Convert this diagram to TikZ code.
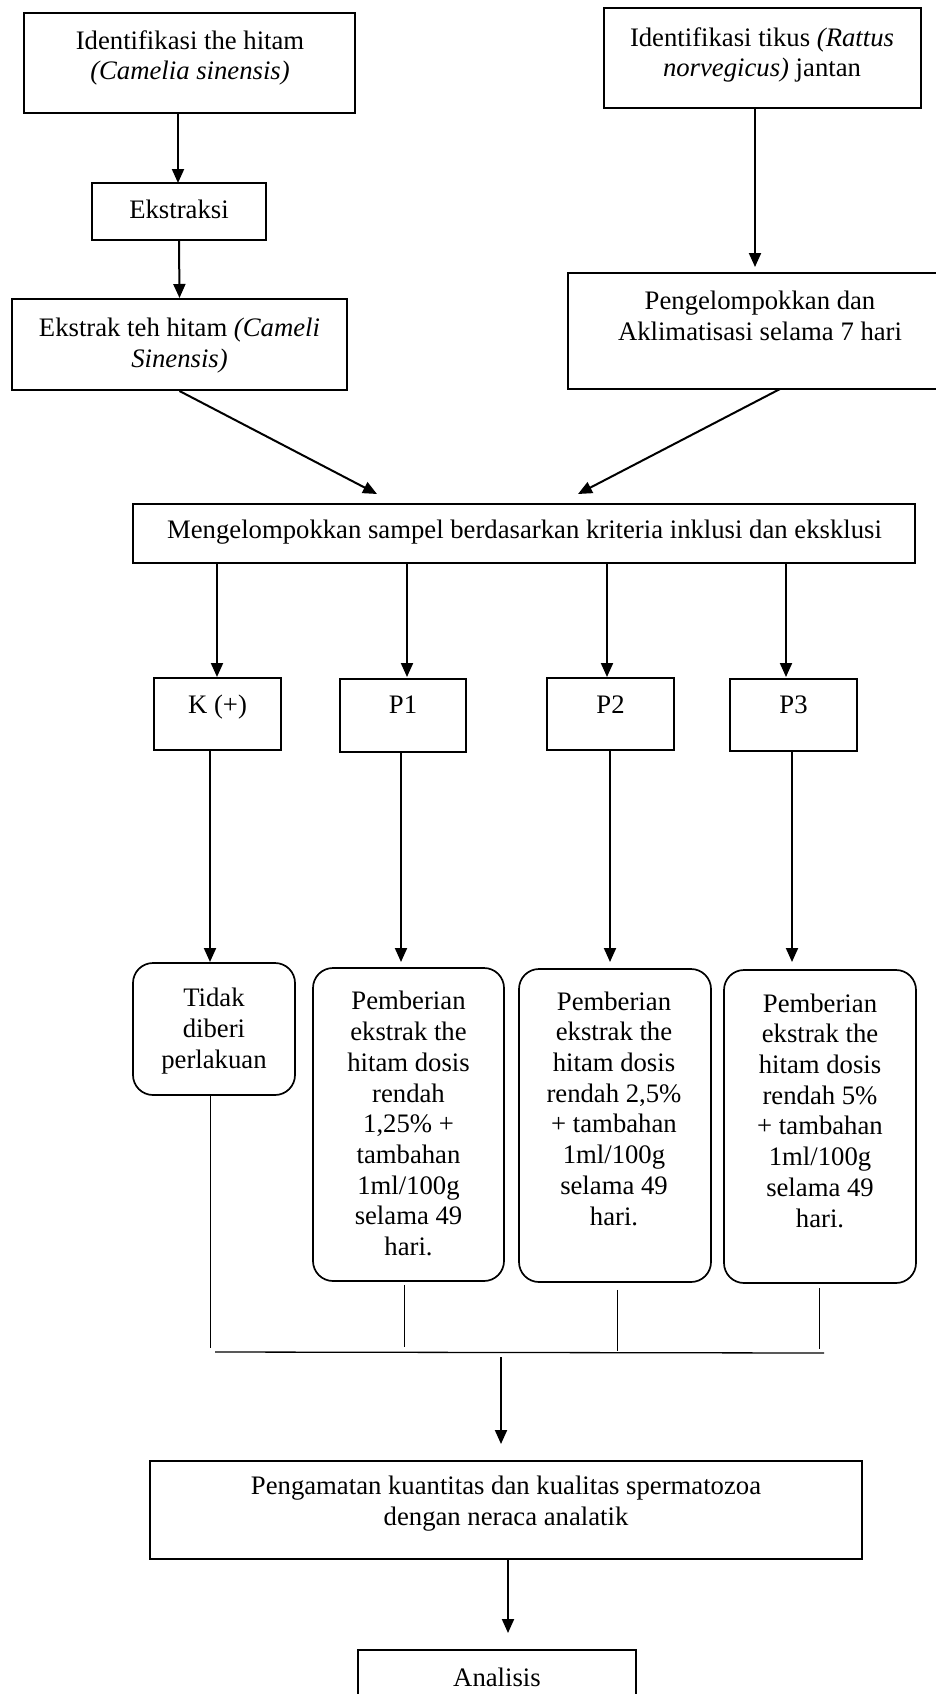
\documentclass[tikz,border=0pt]{standalone}
\usepackage{fontspec}
\setmainfont{Liberation Serif}
\usetikzlibrary{arrows.meta}
\newcommand\tf{\fontsize{26.7}{30.7}\selectfont}
\tikzset{
  box/.style={draw, line width=2pt, inner sep=0pt},
  rbox/.style={draw, line width=1.7pt, rounded corners=20pt, inner sep=0pt},
  txt/.style={align=center, inner sep=0pt, font=\tf, anchor=base},
  arr/.style={line width=2pt, -{Triangle[length=14pt,width=12pt]}},
  thinline/.style={line width=1pt},
}
\begin{document}
\begin{tikzpicture}[x=1pt, y=-1pt]
\useasboundingbox (0,0) rectangle (936,1694);
% top boxes (text nodes are placed at the baseline of their last line)
\node[box, minimum width=331pt, minimum height=100pt] (A) at (189.5,63) {};
\node[txt] (At) at (190,80) {Identifikasi the hitam\\\textit{(Camelia sinensis)}};
\node[box, minimum width=317pt, minimum height=100pt] (B) at (762.5,58) {};
\node[txt] (Bt) at (762,77) {Identifikasi tikus \textit{(Rattus}\\\textit{norvegicus)} jantan};
\node[box, minimum width=174pt, minimum height=57pt] (Ek) at (179,211.5) {};
\node[txt] (Ekt) at (179,218) {Ekstraksi};
\node[box, minimum width=335pt, minimum height=91pt] (ET) at (179.5,344.5) {};
\node[txt] (ETt) at (179.5,367) {Ekstrak teh hitam \textit{(Cameli}\\\textit{Sinensis)}};
\node[box, minimum width=373pt, minimum height=116pt] (PA) at (754.5,331) {};
\node[txt] (PAt) at (760,340) {Pengelompokkan dan\\Aklimatisasi selama 7 hari};
% grouping box
\node[box, minimum width=782pt, minimum height=59pt] (M) at (524,533.5) {};
\node[txt] (Mt) at (524.5,538) {Mengelompokkan sampel berdasarkan kriteria inklusi dan eksklusi};
% small boxes
\node[box, minimum width=127pt, minimum height=72pt] (K) at (217.5,714) {};
\node[txt] (Kt) at (217.5,713) {K (+)};
\node[box, minimum width=126pt, minimum height=73pt] (P1) at (403,715.5) {};
\node[txt] (P1t) at (403,713) {P1};
\node[box, minimum width=127pt, minimum height=72pt] (P2) at (610.5,714) {};
\node[txt] (P2t) at (610.5,713) {P2};
\node[box, minimum width=127pt, minimum height=72pt] (P3) at (793.5,715) {};
\node[txt] (P3t) at (793.5,713) {P3};
% rounded boxes
\node[rbox, minimum width=162pt, minimum height=132pt] (RK) at (214,1029) {};
\node[txt] (RKt) at (214,1068) {Tidak\\diberi\\perlakuan};
\node[rbox, minimum width=191pt, minimum height=313pt] (R1) at (408.5,1124.5) {};
\node[txt] (R1t) at (408.5,1255.5) {Pemberian\\ekstrak the\\hitam dosis\\rendah\\1,25\% +\\tambahan\\1ml/100g\\selama 49\\hari.};
\node[rbox, minimum width=192pt, minimum height=313pt] (R2) at (615,1125.5) {};
\node[txt] (R2t) at (614,1225) {Pemberian\\ekstrak the\\hitam dosis\\rendah 2,5\%\\+ tambahan\\1ml/100g\\selama 49\\hari.};
\node[rbox, minimum width=192pt, minimum height=313pt] (R3) at (820,1126.5) {};
\node[txt] (R3t) at (820,1227) {Pemberian\\ekstrak the\\hitam dosis\\rendah 5\%\\+ tambahan\\1ml/100g\\selama 49\\hari.};
% bottom boxes
\node[box, minimum width=712pt, minimum height=98pt] (PG) at (506,1510) {};
\node[txt] (PGt) at (506,1525) {Pengamatan kuantitas dan kualitas spermatozoa\\dengan neraca analatik};
\node[box, minimum width=278pt, minimum height=100pt] (AN) at (497,1700) {};
\node[txt] (ANt) at (497,1686) {Analisis};
% coordinates
\coordinate (tA) at (178,183);
\coordinate (tB) at (755,267);
\coordinate (dL) at (377,494);
\coordinate (dR) at (578,494);
\coordinate (sR) at (780,389);
\coordinate (m0) at (217,677);
\coordinate (m1) at (407,677);
\coordinate (m2) at (607,677);
\coordinate (m3) at (786,677);
\coordinate (t0) at (210,962);
\coordinate (t1) at (401,962);
\coordinate (t2) at (610,962);
\coordinate (t3) at (792,962);
\coordinate (j0) at (210,1348);
\coordinate (j1) at (404,1347);
\coordinate (j2) at (617,1351);
\coordinate (j3) at (819,1349);
\coordinate (h0) at (215,1352);
\coordinate (h1) at (824,1353);
\coordinate (s5) at (501,1357);
\coordinate (t5) at (501,1444);
\coordinate (t6) at (508,1633);
% arrows
\draw[arr] (tA |- A.south) -- (tA);
\draw[arr] (Ek.south) -- (ET.north);
\draw[arr] (tB |- B.south) -- (tB);
\draw[arr] (ET.south) -- (dL);
\draw[arr] (sR) -- (dR);
\draw[arr] (m0 |- M.south) -- (m0);
\draw[arr] (m1 |- M.south) -- (m1);
\draw[arr] (m2 |- M.south) -- (m2);
\draw[arr] (m3 |- M.south) -- (m3);
\draw[arr] (t0 |- K.south) -- (t0);
\draw[arr] (t1 |- P1.south) -- (t1);
\draw[arr] (t2 |- P2.south) -- (t2);
\draw[arr] (t3 |- P3.south) -- (t3);
% joining lines
\draw[thinline] (j0 |- RK.south) -- (j0);
\draw[thinline] ([yshift=-3pt]j1 |- R1.south) -- (j1);
\draw[thinline] ([yshift=-7pt]j2 |- R2.south) -- (j2);
\draw[thinline] ([yshift=-4pt]j3 |- R3.south) -- (j3);
\draw[line width=1.3pt] (h0) -- (h1);
\draw[arr] (s5) -- (t5);
\draw[arr] (t6 |- PG.south) -- (t6);
\end{tikzpicture}
\end{document}
